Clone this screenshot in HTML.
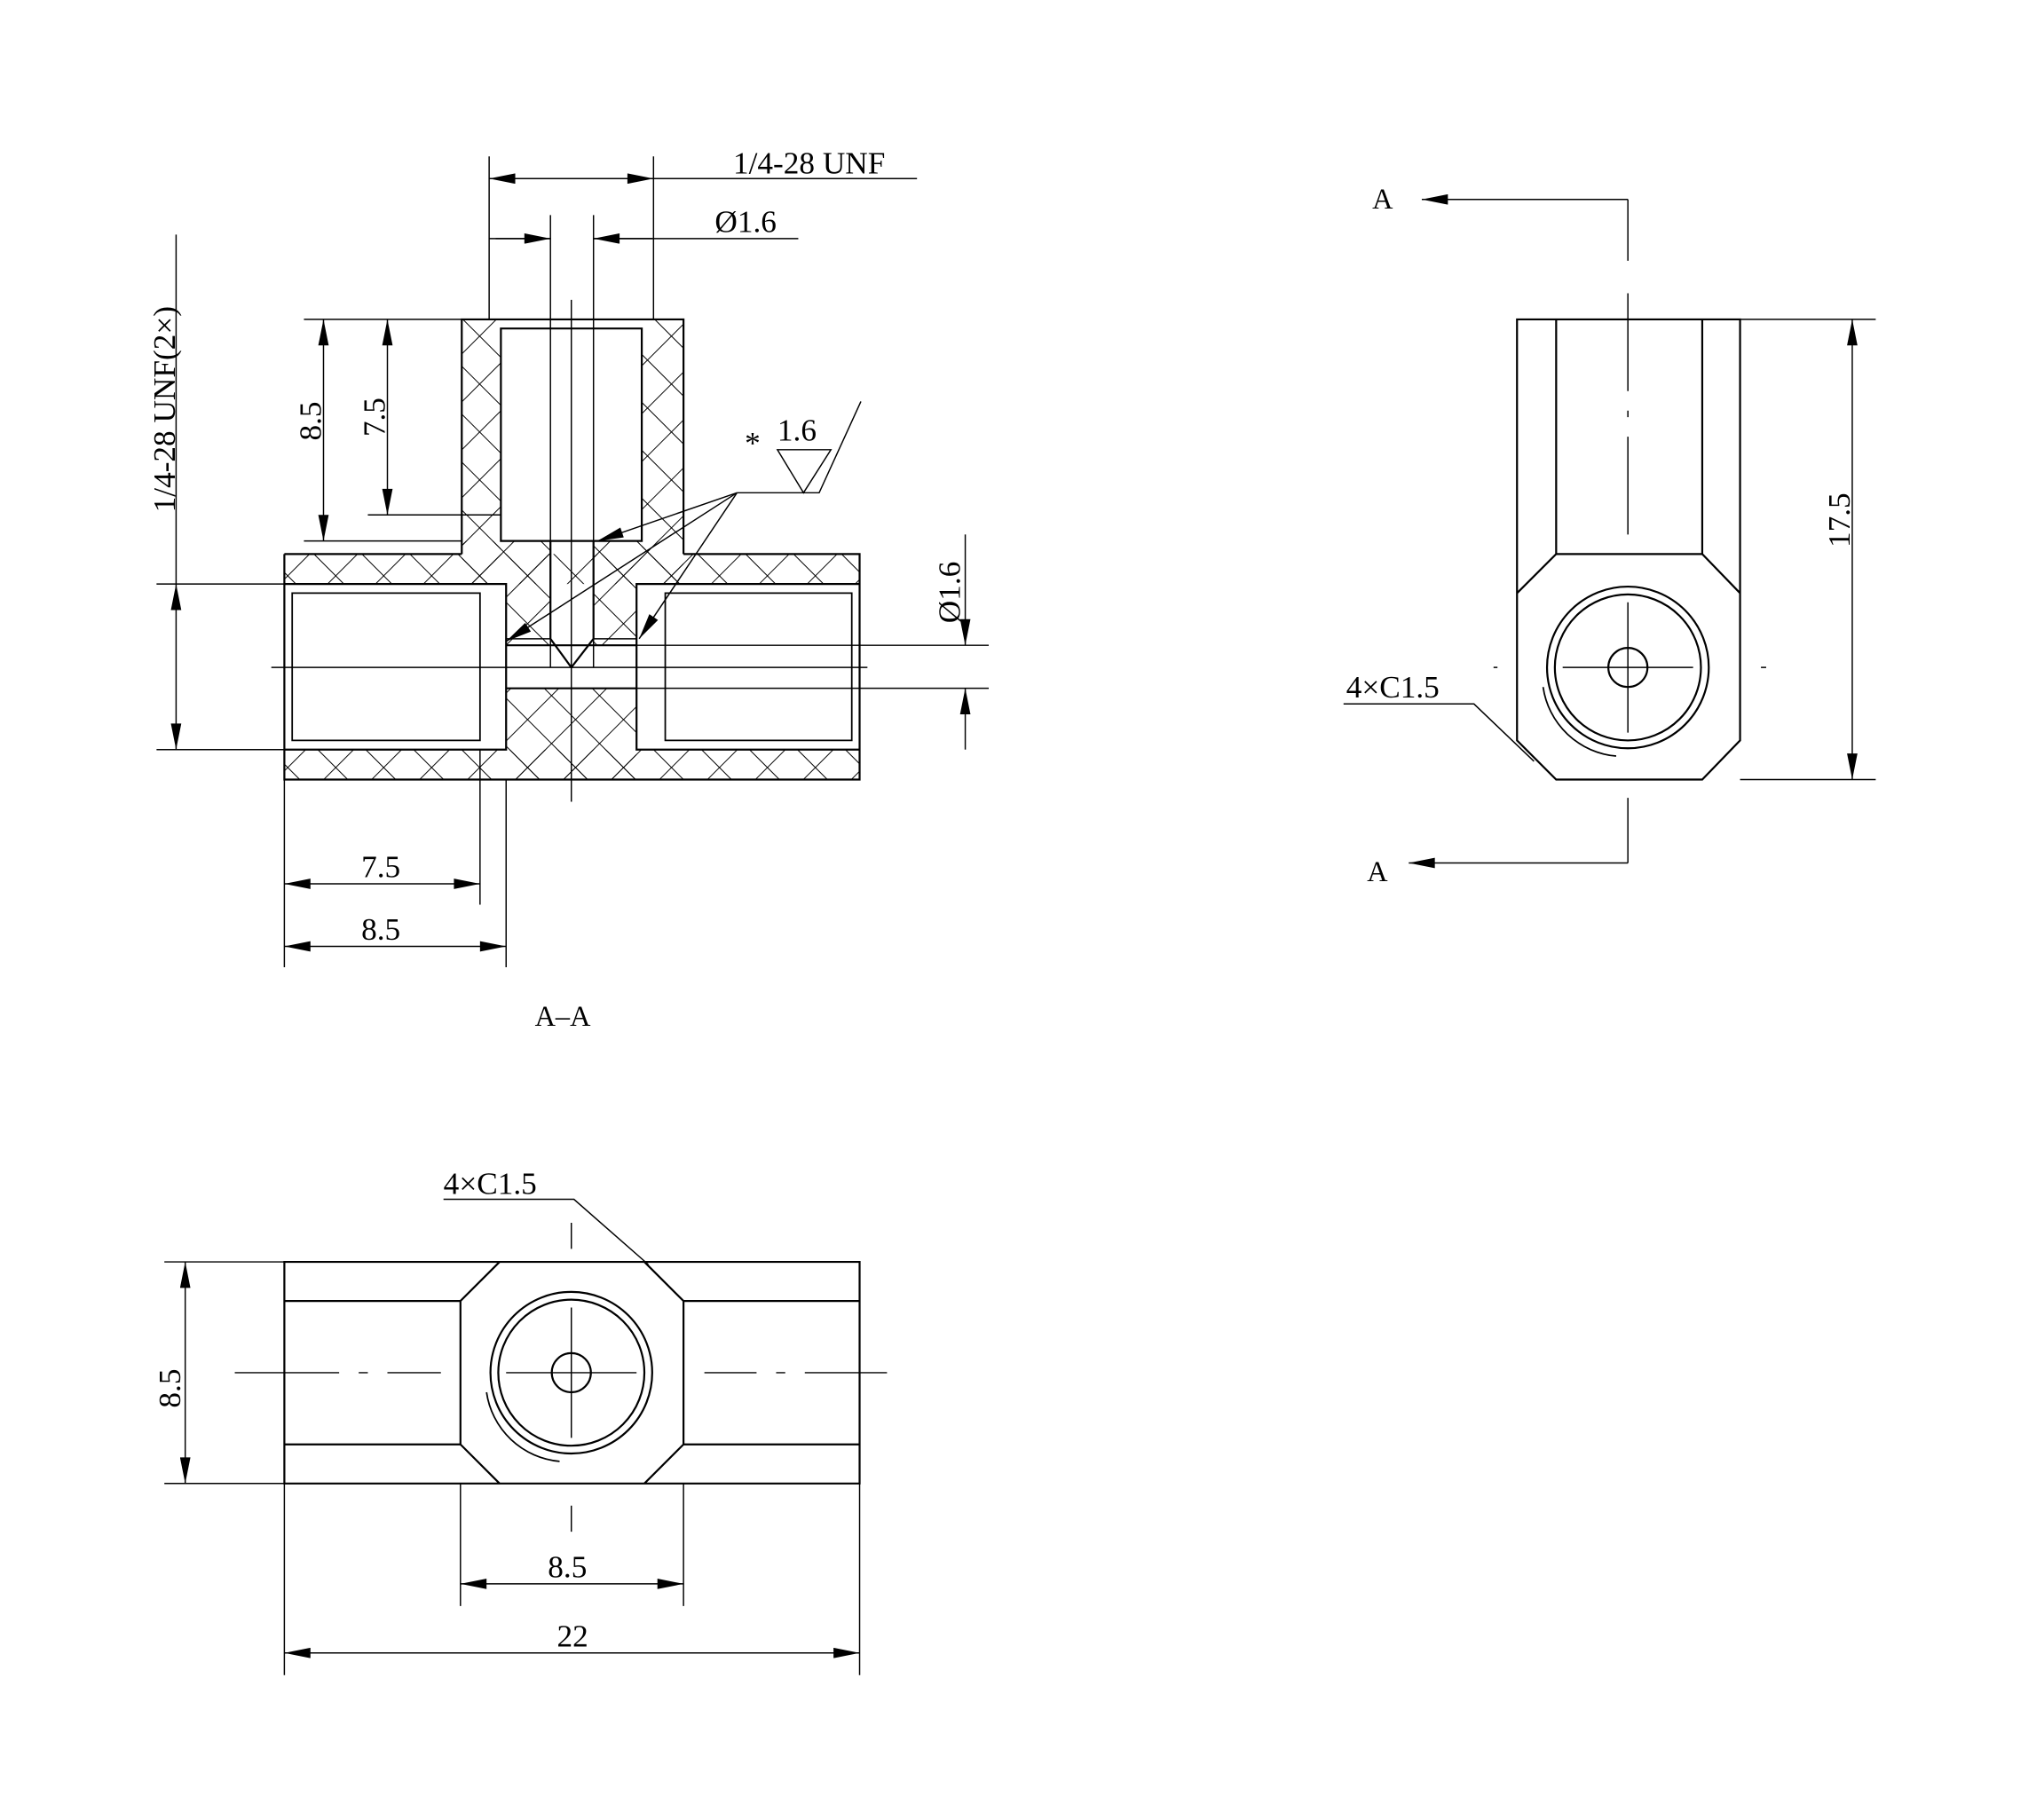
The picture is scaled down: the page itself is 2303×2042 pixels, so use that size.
<!DOCTYPE html>
<html><head><meta charset="utf-8"><style>
html,body{margin:0;padding:0;background:#fff}
svg{display:block}
text{font-family:"Liberation Serif","Noto Serif CJK SC",serif;fill:#000}
</style></head><body>
<svg width="2303" height="2042" viewBox="0 0 1567 1390" preserveAspectRatio="none" xmlns="http://www.w3.org/2000/svg">
<defs>
<pattern id="h" width="26" height="26" patternUnits="userSpaceOnUse" patternTransform="rotate(45)">
<line x1="0" y1="0" x2="0" y2="26" stroke="#000" stroke-width="1.3"/>
<line x1="0" y1="0" x2="26" y2="0" stroke="#000" stroke-width="1.3"/>
</pattern>
<marker id="a" viewBox="0 0 10 4" refX="10" refY="2" markerWidth="28" markerHeight="8" markerUnits="userSpaceOnUse" orient="auto-start-reverse"><path d="M0,0L10,2L0,4z" fill="#000"/></marker>
</defs>
<rect width="1567" height="1390" fill="#fff"/>
<g fill="none" stroke="#000" stroke-width="1.5">
<g fill="url(#h)" stroke="none">
<rect x="354" y="245" width="30" height="180"/>
<rect x="492" y="245" width="32" height="180"/>
<rect x="218" y="425" width="441" height="23"/>
<rect x="218" y="575" width="441" height="23"/>
<path d="M354,415H422V490L438,512L455,490V415H524V448H488V495H388V448H354Z"/>
<rect x="388" y="528" width="100" height="70"/>
</g>
<path d="M354,425V245H524V425"/>
<path d="M384,415V252H492V415Z"/>
<path d="M218,425H354M524,425H659V598H218V425"/>
<path d="M218,448H388V575H218M659,448H488V575H659"/>
<path d="M224,455H368V568H224Z M653,455H510V568H653Z" stroke-width="1.2"/>
<path d="M422,415V490L438,512L455,490V415"/>
<path d="M388,495H488M388,528H488"/>
<path d="M388,490H422M455,490H488" stroke-width="1"/>
<path d="M208,512H665M438,230V615" stroke-width="1"/>
<path d="M375,245V120M501,245V120M422,512V165M455,512V165" stroke-width="1"/>
<path d="M375,137H501" marker-start="url(#a)" marker-end="url(#a)" stroke-width="1"/>
<path d="M501,137H703" stroke-width="1"/>
<path d="M375,183H422M455,183H612" stroke-width="1"/>
<path d="M380,183H422" marker-end="url(#a)" stroke-width="1"/>
<path d="M500,183H455" marker-end="url(#a)" stroke-width="1"/>
<path d="M233,245H354M233,415H354M282,395H384M120,448H218M120,575H218" stroke-width="1"/>
<path d="M248,245V415" marker-start="url(#a)" marker-end="url(#a)" stroke-width="1"/>
<path d="M297,245V395" marker-start="url(#a)" marker-end="url(#a)" stroke-width="1"/>
<path d="M135,448V575" marker-start="url(#a)" marker-end="url(#a)" stroke-width="1"/>
<path d="M135,180V448" stroke-width="1"/>
<path d="M488,495H758M488,528H758" stroke-width="1"/>
<path d="M740,410V495" marker-end="url(#a)" stroke-width="1"/>
<path d="M740,575V528" marker-end="url(#a)" stroke-width="1"/>
<path d="M218,598V742M368,575V694M388,598V742" stroke-width="1"/>
<path d="M218,678H368" marker-start="url(#a)" marker-end="url(#a)" stroke-width="1"/>
<path d="M218,726H388" marker-start="url(#a)" marker-end="url(#a)" stroke-width="1"/>
<path d="M565,378H628L660,308M596,345H637L616,378Z" stroke-width="1"/>
<path d="M565,378L458,415" marker-end="url(#a)" stroke-width="1"/>
<path d="M565,378L388,492" marker-end="url(#a)" stroke-width="1"/>
<path d="M565,378L490,490" marker-end="url(#a)" stroke-width="1"/>

<path d="M1163,568V245H1334V568L1305,598H1193Z M1163,455L1193,425H1305L1334,455 M1193,245V425M1305,245V425"/>
<circle cx="1248" cy="512" r="62"/><circle cx="1248" cy="512" r="56"/><circle cx="1248" cy="512" r="15"/>
<path d="M1187,525A62,62 0 0 0 1243,578" stroke-width="1.2" transform="translate(-4,2)"/>
<path d="M1198,512H1298M1248,462V562" stroke-width="1"/>
<path d="M1248,153V200M1248,225V300M1248,315V320M1248,335V410M1248,612V662" stroke-width="1"/>
<path d="M1145,512H1148M1350,512H1354" stroke-width="1"/>
<path d="M1248,153H1090" marker-end="url(#a)" stroke-width="1"/>
<path d="M1248,662H1080" marker-end="url(#a)" stroke-width="1"/>
<path d="M1334,245H1438M1334,598H1438" stroke-width="1"/>
<path d="M1420,245V598" marker-start="url(#a)" marker-end="url(#a)" stroke-width="1"/>
<path d="M1030,540H1130L1176,584" stroke-width="1"/>

<path d="M218,968H383L353,998V1108L383,1138H218Z M659,968H494L524,998V1108L494,1138H659Z M383,968H494M383,1138H494"/>
<path d="M218,998H353M218,1108H353M524,998H659M524,1108H659"/>
<circle cx="438" cy="1053" r="62"/><circle cx="438" cy="1053" r="56"/><circle cx="438" cy="1053" r="15"/>
<path d="M377,1066A62,62 0 0 0 433,1119" stroke-width="1.2" transform="translate(-4,2)"/>
<path d="M388,1053H488M438,1003V1103" stroke-width="1"/>
<path d="M180,1053H260M275,1053H282M297,1053H338M540,1053H580M595,1053H602M617,1053H680M438,938V958M438,1155V1175" stroke-width="1"/>
<path d="M126,968H218M126,1138H218" stroke-width="1"/>
<path d="M142,968V1138" marker-start="url(#a)" marker-end="url(#a)" stroke-width="1"/>
<path d="M353,1138V1232M524,1138V1232M218,1138V1285M659,1138V1285" stroke-width="1"/>
<path d="M353,1215H524" marker-start="url(#a)" marker-end="url(#a)" stroke-width="1"/>
<path d="M218,1268H659" marker-start="url(#a)" marker-end="url(#a)" stroke-width="1"/>
<path d="M340,920H440L497,970" stroke-width="1"/>
</g>
<g font-size="24">
<text x="562" y="133">1/4-28 UNF</text>
<text x="548" y="178">Ø1.6</text>
<text x="571" y="348">*</text>
<text x="596" y="338">1.6</text>
<text transform="translate(246,338) rotate(-90)">8.5</text>
<text transform="translate(295,335) rotate(-90)">7.5</text>
<text transform="translate(134,393) rotate(-90)">1/4-28 UNF(2×)</text>
<text transform="translate(736,478) rotate(-90)">Ø1.6</text>
<text x="277" y="673">7.5</text>
<text x="277" y="721">8.5</text>
<text x="410" y="787" font-size="22">A–A</text>
<text x="1052" y="160" font-size="22">A</text>
<text x="1048" y="676" font-size="22">A</text>
<text transform="translate(1418,420) rotate(-90)">17.5</text>
<text x="1032" y="535">4×C1.5</text>
<text x="340" y="916">4×C1.5</text>
<text transform="translate(138,1080) rotate(-90)">8.5</text>
<text x="420" y="1210">8.5</text>
<text x="427" y="1263">22</text>
</g>
</svg>
</body></html>
